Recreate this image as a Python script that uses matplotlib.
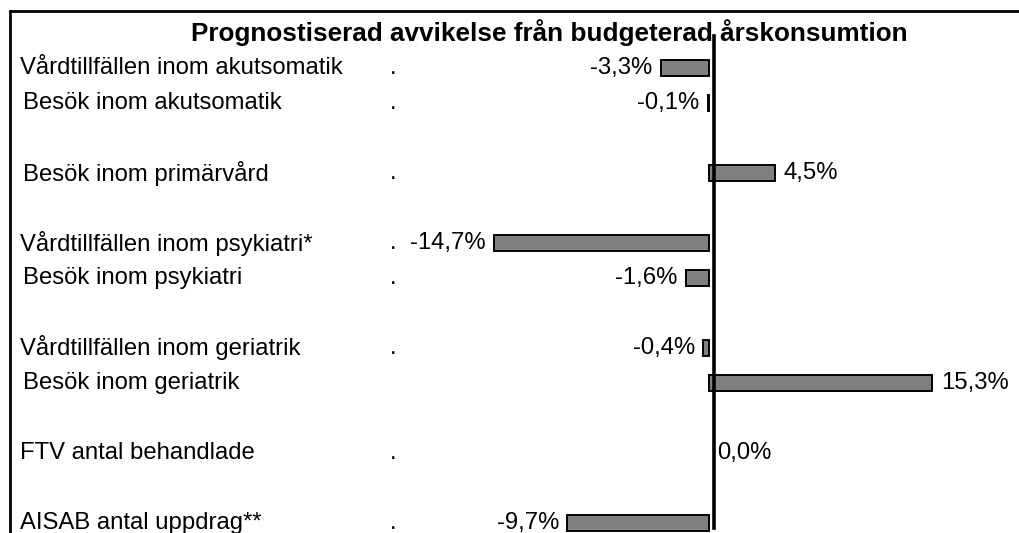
import matplotlib
matplotlib.use("Agg")
import matplotlib.pyplot as plt
from matplotlib.lines import Line2D
import matplotlib.transforms as mtransforms

plt.rcParams['font.family'] = ['Liberation Sans', 'DejaVu Sans']

title = "Prognostiserad avvikelse från budgeterad årskonsumtion"
categories = ["Vårdtillfällen inom akutsomatik", "Besök inom akutsomatik",
              "Besök inom primärvård", "Vårdtillfällen inom psykiatri*",
              "Besök inom psykiatri", "Vårdtillfällen inom geriatrik",
              "Besök inom geriatrik", "FTV antal behandlade",
              "AISAB antal uppdrag**"]
values = [-3.3, -0.1, 4.5, -14.7, -1.6, -0.4, 15.3, 0.0, -9.7]
slots = [0, 1, 3, 5, 6, 8, 9, 11, 13]
label_indent = [0, 1, 1, 0, 1, 0, 1, 0, 0]
has_dot = [True, True, True, True, True, True, False, True, True]

W, H = 1019, 533
fig = plt.figure(figsize=(W / 100, H / 100), dpi=100)
ax = fig.add_axes([0, 0, 1, 1])
ax.set_axis_off()

px_per = 14.6
x0 = 709
y0, dy = 68, 35
ax.set_xlim(-x0 / px_per, (W - x0) / px_per)
ax.set_ylim((H - y0) / dy, -y0 / dy)

fs = 17.2
ax.barh(slots, values, height=0.44, color='#808080', edgecolor='black',
        linewidth=[0 if v == 0 else 1.4 for v in values], zorder=2)

zl = 713.5 / W
fig.add_artist(Line2D([zl, zl], [1 - 528 / H, 1 - 36 / H],
                      transform=fig.transFigure, color='black', lw=2.6, zorder=3))

trans = mtransforms.blended_transform_factory(ax.transAxes, ax.transData)
for cat, s, ind, dot, v in zip(categories, slots, label_indent, has_dot, values):
    ax.text((20 + 3 * ind) / W, s, cat, transform=trans, fontsize=fs,
            va='center', ha='left')
    if dot:
        ax.text(393 / W, s, '.', transform=trans, fontsize=fs,
                va='center', ha='center')
    lab = f"{v:.1f}%".replace('.', ',')
    if v < 0:
        ax.annotate(lab, (v, s), xytext=(-6, 0), textcoords='offset points',
                    ha='right', va='center', fontsize=fs)
    else:
        ax.annotate(lab, (v, s), xytext=(6, 0), textcoords='offset points',
                    ha='left', va='center', fontsize=fs)

fig.text(549 / W, 1 - 33 / H, title, fontsize=18.8, fontweight='bold',
         ha='center', va='center')

fig.add_artist(Line2D([9.5 / W, 1], [1 - 10.5 / H, 1 - 10.5 / H],
                      transform=fig.transFigure, color='black', lw=2))
fig.add_artist(Line2D([9.5 / W, 9.5 / W], [0, 1 - 10.5 / H],
                      transform=fig.transFigure, color='black', lw=2))

fig.savefig("out.png", dpi=100)
